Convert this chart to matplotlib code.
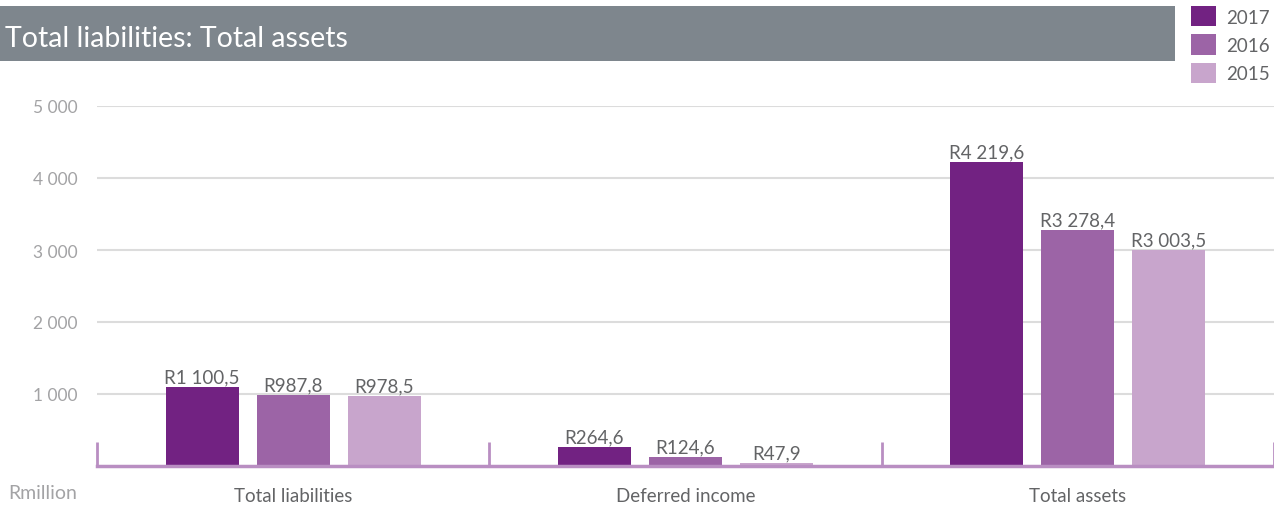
import numpy as np
import matplotlib
matplotlib.use("Agg")
import matplotlib.pyplot as plt
from matplotlib.patches import Rectangle, Patch

categories = ["Total liabilities", "Deferred income", "Total assets"]
years = ["2017", "2016", "2015"]
v2017 = [1100.5, 264.6, 4219.6]
v2016 = [987.8, 124.6, 3278.4]
v2015 = [978.5, 47.9, 3003.5]
yticks = [1000, 2000, 3000, 4000, 5000]

colors = ["#722282", "#9c64a6", "#c8a5cc"]
axis_purple = "#b98ec2"
text_dark = "#636466"
text_light = "#a3a3a5"

plt.rcParams['font.family'] = ['Lato', 'DejaVu Sans']


def fmt(v, dec=1):
    s = f"{v:,.{dec}f}"
    return s.replace(",", " ").replace(".", ",")


fig = plt.figure(figsize=(12.74, 5.06), dpi=100)
ax = fig.add_axes([97/1274, 39/506, 1177/1274, 360/506])

x = np.arange(len(categories)) + 0.5
offsets = [-0.232, 0.0, 0.232]
width = 0.186
for vals, off, col, yr in zip([v2017, v2016, v2015], offsets, colors, years):
    bars = ax.bar(x + off, vals, width, color=col, label=yr, zorder=3)
    ax.bar_label(bars, labels=["R" + fmt(v) for v in vals], padding=1,
                 fontsize=13.5, color=text_dark)

ax.set_xlim(0, 3)
ax.set_ylim(0, 5000)
ax.set_yticks(yticks)
ax.set_yticklabels([fmt(t, 0) for t in yticks])
ax.yaxis.grid(True, color="#dcdcdc", linewidth=1.5, zorder=0)
ax.tick_params(axis="y", length=0, pad=14, labelsize=12.5, labelcolor=text_light)

ax.set_xticks(x)
ax.set_xticklabels(categories)
ax.tick_params(axis="x", which="major", length=0, pad=15, labelsize=13.5,
               labelcolor=text_dark)
ax.set_xticks([0, 1, 2, 3], minor=True)
ax.tick_params(axis="x", which="minor", direction="in", length=17, width=2,
               color=axis_purple)

for s in ["top", "right", "left"]:
    ax.spines[s].set_visible(False)
ax.spines["bottom"].set_color(axis_purple)
ax.spines["bottom"].set_linewidth(2.5)
ax.spines["bottom"].set_zorder(4)

# title banner
fig.patches.append(Rectangle((0, 444/506), 1175/1274, 55/506,
                             transform=fig.transFigure, facecolor="#7e868d",
                             edgecolor="none", zorder=0))
fig.text(5/1274, 459/506, "Total liabilities: Total assets", fontsize=20.5,
         color="white", va="baseline", ha="left")

fig.text(8/1274, 12/506, "Rmillion", fontsize=14, color=text_light,
         va="center", ha="left")

handles = [Patch(facecolor=c, edgecolor="none") for c in colors]
fig.legend(handles, years, loc="upper left", bbox_to_anchor=(1178/1274, 1.012),
           frameon=False, fontsize=13.5, handlelength=1.3, handleheight=1.3,
           handletextpad=0.55, labelspacing=0.42, borderaxespad=0.3,
           labelcolor=text_dark)

fig.savefig("out.png", dpi=100)
